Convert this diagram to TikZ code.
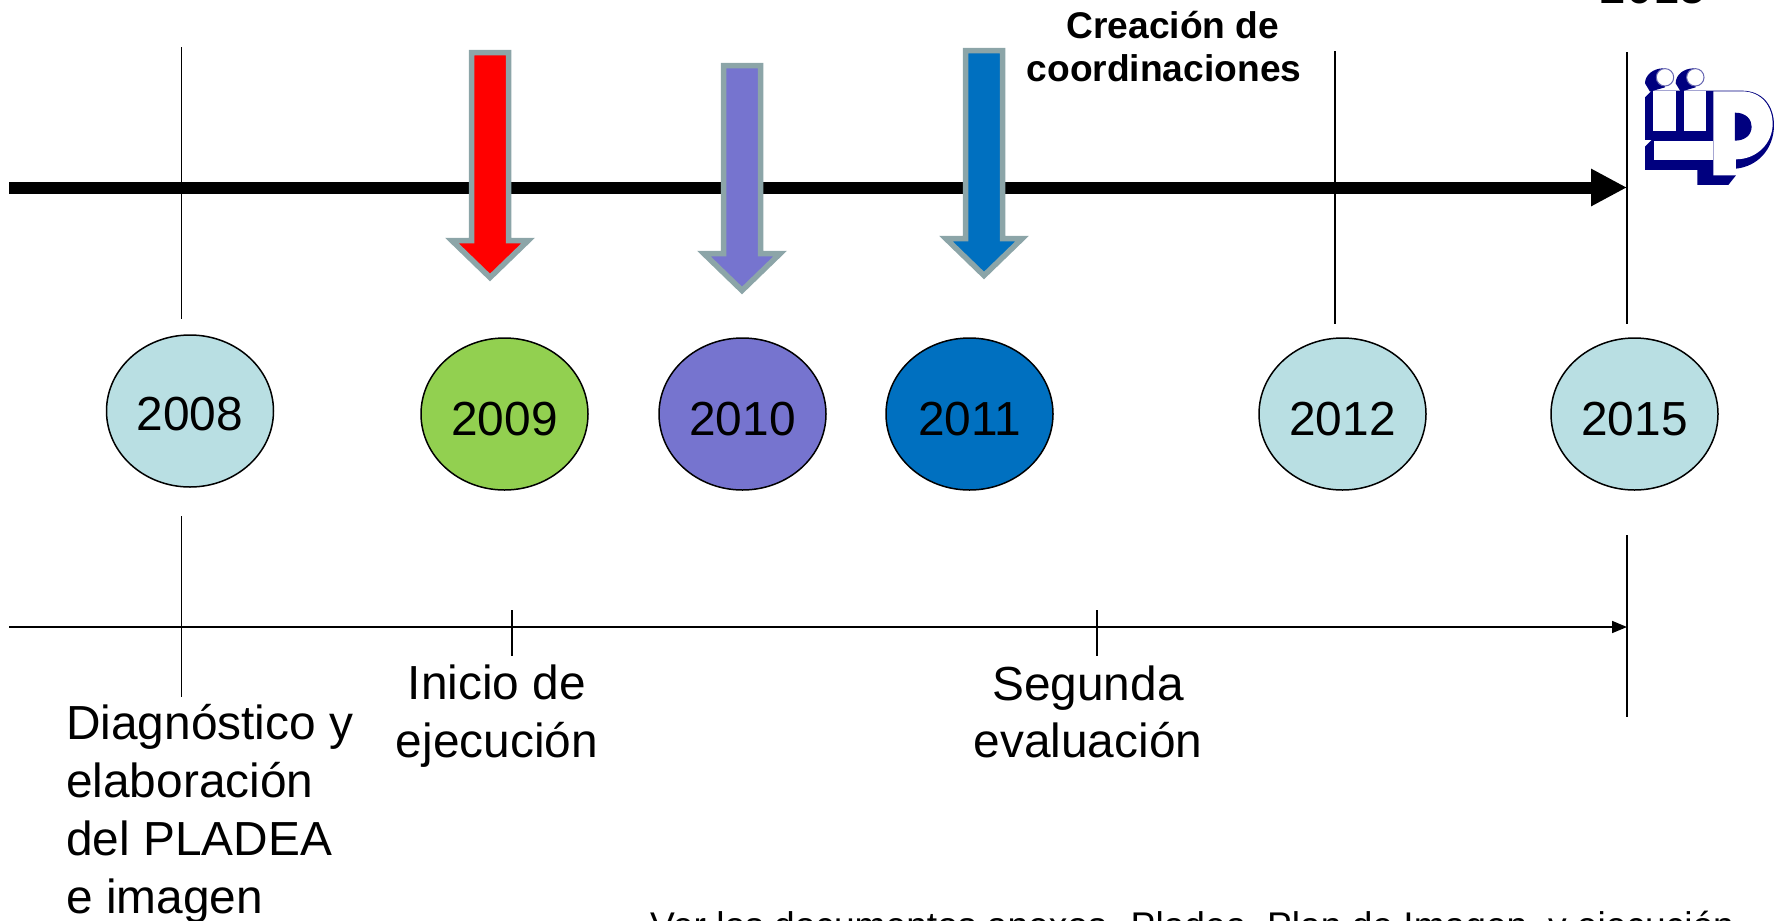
\documentclass[tikz,border=0pt]{standalone}
\usepackage{fontspec}
\setmainfont{Liberation Sans}
\usetikzlibrary{arrows.meta,shapes.geometric}
\definecolor{pale}{HTML}{B9DFE3}
\definecolor{leaf}{HTML}{92D050}
\definecolor{lilac}{HTML}{7674CF}
\definecolor{azure}{HTML}{0070C0}
\definecolor{edgegrey}{HTML}{8CA5A8}
\definecolor{logoblue}{HTML}{00007F}
\tikzset{
  x=1bp,y=-1bp,
  yearnode/.style={ellipse,draw=black,line width=1.5bp,minimum width=167bp,minimum height=152bp,inner sep=0pt,font=\fontsize{48}{48}\selectfont,text=black},
  bodytext/.style={font=\fontsize{48}{58}\selectfont,align=center,inner sep=0pt,text=black},
  thinline/.style={line width=1.7bp,black},
  blockarrow/.style={draw=edgegrey,line width=5.5bp,miter limit=10},
}
\begin{document}
\begin{tikzpicture}
\useasboundingbox (0,0) rectangle (1779,920);
\clip (0,0) rectangle (1779,920);
% timeline coordinates
\coordinate (mainL) at (9,187.5);
\coordinate (mainR) at (1627,187.5);
\coordinate (lowL) at (9,627);
\coordinate (lowR) at (1627,627);
\foreach \n/\xx/\ya/\yb in {a/181.5/47/319, b/181.5/516/697, c/1335/51/324, d/1627/52/324, e/1627/535/717, f/512/610/656, g/1097/610/656}{
  \coordinate (\n1) at (\xx,\ya);
  \coordinate (\n2) at (\xx,\yb);
  \draw[thinline] (\n1) -- (\n2);
}
\draw[thinline,-{Triangle[length=15bp,width=12bp]}] (lowL) -- (lowR);
\draw[line width=12bp,black,-{Triangle[length=36bp,width=35bp,sep=0pt]}] (mainL) -- (mainR);
% block arrows
\foreach \dx/\dy/\col in {0/0/red, 252/13/lilac, 494/-2/azure}{
  \draw[blockarrow,fill=\col,shift={(\dx,\dy)}]
    (471.7,52.7) -- (508.7,52.7) -- (508.7,240.7) -- (528,240.7) -- (490,277.5) -- (452,240.7) -- (471.7,240.7) -- cycle;
}
% year nodes
\node[yearnode,fill=pale] (y2008) at (190,411) {\raisebox{-19bp}[0pt][0pt]{2008}};
\node[yearnode,fill=leaf] (y2009) at (504.5,414) {\raisebox{-21.5bp}[0pt][0pt]{2009}};
\node[yearnode,fill=lilac] (y2010) at (742.5,414) {\raisebox{-21.5bp}[0pt][0pt]{2010}};
\node[yearnode,fill=azure] (y2011) at (969.5,414) {\raisebox{-21.5bp}[0pt][0pt]{2011}};
\node[yearnode,fill=pale] (y2012) at (1342.5,414) {\raisebox{-21.5bp}[0pt][0pt]{2012}};
\node[yearnode,fill=pale] (y2015) at (1634.5,414) {\raisebox{-21.5bp}[0pt][0pt]{2015}};
% labels
\node[bodytext,font=\fontsize{37.3}{43}\selectfont\bfseries] (coord) at (1164,46.5) {\hspace*{18bp}Creación de\\coordinaciones};
\node[bodytext,anchor=base] (top2015) at (1653,3) {2015};
\node[bodytext] (inicio) at (497,716) {Inicio de\\ejecución};
\node[bodytext] (segunda) at (1088,712) {Segunda\\evaluación};
\node[bodytext,align=left,anchor=north west] (diag) at (66,704.5) {Diagnóstico y\\elaboración\\del PLADEA\\e imagen};
\node[bodytext,font=\fontsize{37.3}{40}\selectfont,anchor=base west] (ver) at (650,938) {Ver los documentos anexos. Pladea, Plan de Imagen, y ejecución};
% logo
\begin{scope}[shift={(1550,0)},x=0.3333bp,y=-0.3333bp]
  \fill[logoblue] (285,250) .. controls (285,225) and (310,205) .. (340,205) -- (345,262) -- (300,275) -- cycle;
  \fill[logoblue] (377,250) .. controls (377,225) and (400,205) .. (432,205) -- (437,262) -- (392,275) -- cycle;
  \fill[white,draw=logoblue!60,line width=1bp] (345,232) circle [radius=8.7bp];
  \fill[white,draw=logoblue!60,line width=1bp] (436,232) circle [radius=8.7bp];
  \fill[logoblue] (285,292) -- (305,272) -- (575,272)
     .. controls (640,272) and (672,320) .. (672,375) .. controls (672,450) and (620,500) .. (558,506)
     -- (558,526) -- (535,555) -- (442,555) -- (442,510) -- (285,510) -- (285,440) -- (305,420) -- (285,420) -- cycle;
  \fill[white] (310,274) rectangle (378,394);
  \fill[white] (401,274) rectangle (469,394);
  \fill[white] (311,422) rectangle (490,480);
  \fill[white] (490,274) -- (575,274) .. controls (635,274) and (668,320) .. (668,372) .. controls (668,430) and (620,478) .. (558,478) -- (558,526) -- (490,526) -- cycle;
  \fill[logoblue] (555,338) .. controls (590,338) and (605,360) .. (605,380) .. controls (605,405) and (585,422) .. (555,422) -- cycle;
\end{scope}
\end{tikzpicture}
\end{document}
